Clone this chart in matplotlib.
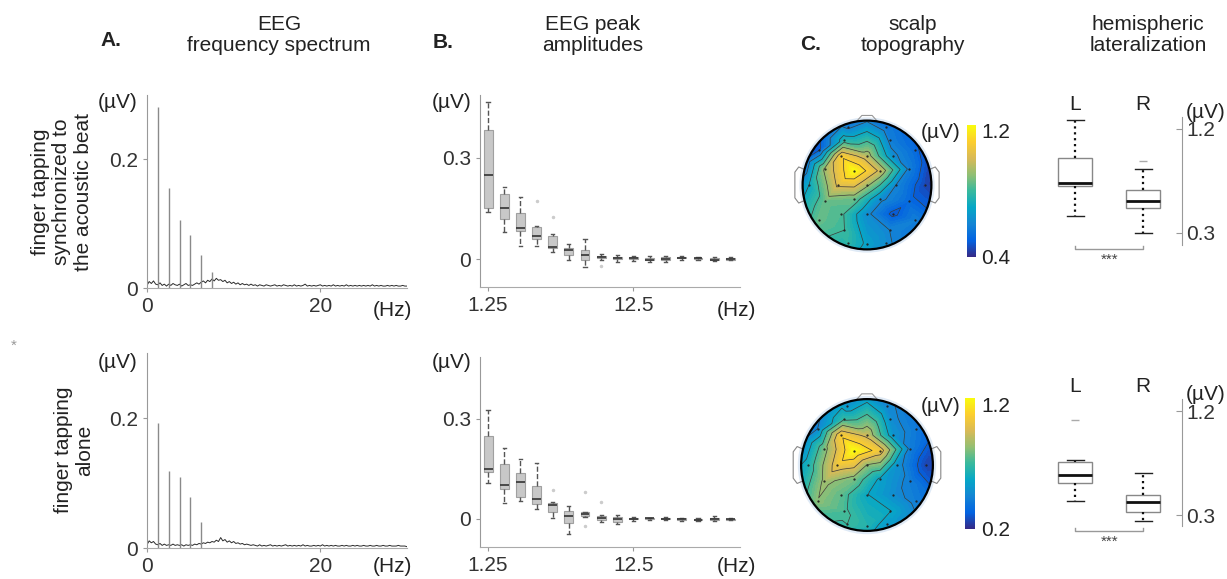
import numpy as np
import matplotlib.pyplot as plt
import matplotlib.tri as mtri
from matplotlib.colors import LinearSegmentedColormap, Normalize
from matplotlib.patches import Circle
from matplotlib.cm import ScalarMappable

plt.rcParams['font.family'] = ['Liberation Sans', 'DejaVu Sans']
plt.rcParams['font.size'] = 15
plt.rcParams['text.color'] = '#222'

W, H = 1227, 579

# ---------------- data ----------------
# A. spectrum: harmonic peaks of the 1.25 Hz beat + noise floor (0.25 Hz steps, 0..30 Hz)
harm_freqs = [1.25, 2.5, 3.75, 5.0, 6.25, 7.5]
peaks_sync = [0.281, 0.155, 0.105, 0.083, 0.052, 0.025]
peaks_alone = [0.192, 0.119, 0.109, 0.078, 0.040]
noise_sync = [0.004, 0.010, 0.007, 0.011, 0.006, 0.005, 0.008, 0.004, 0.006, 0.003,
              0.006, 0.004, 0.007, 0.005, 0.004, 0.006, 0.003, 0.005, 0.007, 0.004,
              0.005, 0.004, 0.006, 0.008, 0.006, 0.009, 0.011, 0.008, 0.012, 0.010,
              0.014, 0.011, 0.015, 0.012, 0.013, 0.010, 0.012, 0.008, 0.010, 0.007,
              0.009, 0.006, 0.008, 0.005, 0.007, 0.005, 0.006, 0.004, 0.006, 0.004,
              0.005, 0.003, 0.005, 0.004, 0.003, 0.005, 0.004, 0.003, 0.004, 0.005,
              0.003, 0.004, 0.003, 0.005, 0.004, 0.003, 0.004, 0.003, 0.005, 0.003,
              0.004, 0.003, 0.004, 0.006, 0.003, 0.004, 0.003, 0.004, 0.003, 0.004,
              0.005, 0.003, 0.004, 0.003, 0.004, 0.003, 0.005, 0.003, 0.004, 0.003,
              0.004, 0.003, 0.005, 0.003, 0.004, 0.003, 0.004, 0.003, 0.004, 0.003,
              0.004, 0.003, 0.004, 0.003, 0.005, 0.003, 0.004, 0.003, 0.004, 0.003,
              0.003, 0.004, 0.003, 0.004, 0.003, 0.004, 0.003, 0.003, 0.004, 0.003, 0.003]
noise_alone = [0.005, 0.011, 0.008, 0.010, 0.006, 0.005, 0.007, 0.004, 0.006, 0.004,
               0.005, 0.004, 0.006, 0.004, 0.005, 0.004, 0.005, 0.003, 0.005, 0.004,
               0.005, 0.004, 0.006, 0.005, 0.007, 0.006, 0.008, 0.007, 0.009, 0.008,
               0.010, 0.009, 0.012, 0.010, 0.016, 0.011, 0.013, 0.009, 0.011, 0.008,
               0.010, 0.007, 0.008, 0.006, 0.007, 0.005, 0.006, 0.005, 0.004, 0.005,
               0.004, 0.003, 0.005, 0.003, 0.004, 0.003, 0.004, 0.005, 0.003, 0.004,
               0.003, 0.004, 0.003, 0.004, 0.005, 0.003, 0.004, 0.003, 0.004, 0.003,
               0.004, 0.003, 0.005, 0.003, 0.004, 0.003, 0.003, 0.004, 0.003, 0.004,
               0.003, 0.005, 0.003, 0.004, 0.003, 0.004, 0.003, 0.004, 0.003, 0.003,
               0.004, 0.003, 0.004, 0.003, 0.003, 0.004, 0.003, 0.004, 0.003, 0.003,
               0.004, 0.003, 0.003, 0.004, 0.003, 0.003, 0.004, 0.003, 0.003, 0.004,
               0.003, 0.003, 0.004, 0.003, 0.003, 0.003, 0.004, 0.003, 0.003, 0.003, 0.002]

# B. peak amplitude boxplots at 1.25 .. 20 Hz (16 harmonics)
b_sync_whishi = [0.465, 0.214, 0.185, 0.098, 0.074, 0.044, 0.059, 0.015, 0.012, 0.010, 0.008, 0.010, 0.009, 0.007, 0.005, 0.005]
b_sync_q3 = [0.382, 0.193, 0.136, 0.096, 0.067, 0.032, 0.026, 0.010, 0.006, 0.005, 0.004, 0.005, 0.006, 0.004, 0.002, 0.002]
b_sync_med = [0.249, 0.153, 0.091, 0.067, 0.037, 0.026, 0.013, 0.006, 0.003, 0.002, -0.002, 0.001, 0.004, 0.002, -0.002, -0.001]
b_sync_q1 = [0.152, 0.118, 0.082, 0.059, 0.032, 0.013, -0.002, 0.003, -0.001, 0.000, -0.004, -0.002, 0.002, 0.000, -0.003, -0.002]
b_sync_whislo = [0.141, 0.079, 0.039, 0.039, 0.021, -0.002, -0.025, -0.002, -0.008, -0.005, -0.010, -0.008, -0.002, -0.003, -0.005, -0.004]
b_sync_fliers = [[], [], [], [0.172], [0.124], [], [], [-0.020], [], [], [], [], [], [], [], []]

b_alone_whishi = [0.327, 0.211, 0.178, 0.166, 0.052, 0.039, 0.022, 0.012, 0.012, 0.005, 0.004, 0.005, 0.004, 0.004, 0.008, 0.003]
b_alone_q3 = [0.248, 0.164, 0.138, 0.099, 0.047, 0.024, 0.020, 0.008, 0.007, 0.003, 0.003, 0.003, 0.002, 0.001, 0.004, 0.001]
b_alone_med = [0.149, 0.101, 0.111, 0.059, 0.042, 0.009, 0.015, 0.002, 0.000, 0.001, 0.002, 0.001, 0.000, -0.002, 0.001, -0.001]
b_alone_q1 = [0.141, 0.088, 0.065, 0.045, 0.022, -0.011, 0.009, -0.002, -0.008, -0.001, 0.000, -0.001, -0.002, -0.003, -0.002, -0.002]
b_alone_whislo = [0.106, 0.049, 0.054, 0.029, 0.004, -0.045, 0.007, -0.010, -0.015, -0.005, -0.002, -0.004, -0.006, -0.006, -0.006, -0.004]
b_alone_fliers = [[], [], [], [], [0.086], [], [0.079, -0.020], [0.052], [], [], [], [], [], [], [], []]

# C. scalp topography: electrode layout (unit head) and amplitudes
elec_x = [-0.30, 0.30, -0.35, 0.35, -0.75, -0.40, 0.00, 0.40, 0.75,
          -0.65, -0.20, 0.20, 0.65, -0.90, -0.45, 0.00, 0.45, 0.90,
          -0.65, -0.20, 0.20, 0.65, -0.75, -0.40, 0.00, 0.40, 0.75,
          -0.35, 0.35, -0.30, 0.00, 0.30]
elec_y = [0.90, 0.90, 0.70, 0.70, 0.55, 0.45, 0.45, 0.45, 0.55,
          0.25, 0.22, 0.22, 0.25, 0.00, 0.00, 0.00, 0.00, 0.00,
          -0.25, -0.22, -0.22, -0.25, -0.55, -0.45, -0.45, -0.45, -0.55,
          -0.70, -0.70, -0.90, -0.92, -0.90]
topo_sync = [0.58, 0.55, 0.75, 0.58, 0.48, 1.08, 0.95, 0.62, 0.52,
             0.92, 1.20, 0.98, 0.58, 0.70, 1.02, 0.92, 0.60, 0.45,
             0.85, 0.85, 0.62, 0.52, 0.85, 0.82, 0.62, 0.48, 0.58,
             0.80, 0.60, 0.78, 0.68, 0.62]
topo_alone = [0.50, 0.45, 0.68, 0.48, 0.45, 1.05, 0.92, 0.50, 0.40,
              0.78, 1.20, 1.02, 0.42, 0.62, 1.02, 0.82, 0.50, 0.25,
              0.85, 0.78, 0.55, 0.42, 0.82, 0.75, 0.58, 0.48, 0.42,
              0.72, 0.58, 0.70, 0.65, 0.52]
ring_angles = [0, 22.5, 45, 67.5, 90, 112.5, 135, 157.5, 180, 202.5, 225, 247.5, 270, 292.5, 315, 337.5]
ring_sync = [0.42, 0.45, 0.50, 0.55, 0.55, 0.55, 0.48, 0.48, 0.62, 0.75, 0.82, 0.75, 0.65, 0.60, 0.55, 0.50]
ring_alone = [0.25, 0.32, 0.38, 0.45, 0.50, 0.50, 0.42, 0.42, 0.55, 0.65, 0.72, 0.68, 0.60, 0.50, 0.45, 0.35]

# hemispheric lateralization (L, R)
lat_sync = {'whislo': [0.447, 0.300], 'q1': [0.707, 0.517], 'med': [0.733, 0.577],
            'q3': [0.950, 0.672], 'whishi': [1.270, 0.854], 'fliers': [[], [0.923]]}
lat_alone = {'whislo': [0.420, 0.248], 'q1': [0.577, 0.326], 'med': [0.646, 0.413],
             'q3': [0.760, 0.473], 'whishi': [0.776, 0.663], 'fliers': [[1.122], []]}

parula = LinearSegmentedColormap.from_list('parula', [
    '#352a87', '#0363e1', '#1485d4', '#06a7c6', '#38b99e',
    '#92bf73', '#d9ba56', '#fcce2e', '#f9fb0e'])

fig = plt.figure(figsize=(12.27, 5.79), dpi=100)


def px_axes(left, top, right, bottom):
    return fig.add_axes([left / W, 1 - bottom / H, (right - left) / W, (bottom - top) / H])


def ftext(x, y, s, **kw):
    fig.text(x / W, 1 - y / H, s, **kw)


def style_axes(ax):
    for s in ['top', 'right']:
        ax.spines[s].set_visible(False)
    ax.spines['left'].set_color('#999')
    ax.spines['bottom'].set_color('#aaa')
    ax.tick_params(colors='#999', labelcolor='#333', length=3, labelsize=15)


def spectrum(ax, noise, peaks):
    f = np.arange(len(noise)) * 0.25
    ax.plot(f, noise, color='#2a2a2a', lw=0.7)
    ax.vlines(harm_freqs[:len(peaks)], 0, peaks, color='#8a8a8a', lw=1)
    ax.set_xlim(0, 30)
    ax.set_ylim(0, 0.30)
    ax.set_yticks([0, 0.2], ['0', '0.2'])
    ax.set_xticks([0, 20], ['0', '20'])
    style_axes(ax)


def peak_boxes(ax, whislo, q1, med, q3, whishi, fliers):
    stats = []
    for i in range(len(med)):
        stats.append({'whislo': whislo[i], 'q1': q1[i], 'med': med[i], 'q3': q3[i],
                      'whishi': whishi[i], 'fliers': fliers[i]})
    ax.bxp(stats, positions=range(1, len(med) + 1), widths=0.55, patch_artist=True,
           boxprops=dict(facecolor='#c8c8c8', edgecolor='#a0a0a0', lw=0.8),
           medianprops=dict(color='#333', lw=1.2),
           whiskerprops=dict(color='#555', lw=1, ls='--'),
           capprops=dict(color='#555', lw=1), capwidths=0.2,
           flierprops=dict(marker='.', markersize=3, markerfacecolor='#ccc', markeredgecolor='#ccc'))
    ax.set_xlim(0.5, 16.6)
    ax.set_xticks([1, 10], ['1.25', '12.5'])
    ax.set_yticks([0, 0.3], ['0', '0.3'])
    style_axes(ax)


def topo(ax, vals, ring_vals, vmin, vmax, lim):
    ang = np.deg2rad(ring_angles)
    xs = np.concatenate([elec_x, 1.06 * np.cos(ang)])
    ys = np.concatenate([elec_y, 1.06 * np.sin(ang)])
    zs = np.concatenate([vals, ring_vals])
    tri = mtri.Triangulation(xs, ys)
    ax.add_patch(Circle((0, 0), 1.05, fc='#dfeaf6', ec='none', zorder=0))
    cf = ax.tricontourf(tri, zs, levels=np.linspace(vmin, vmax, 41), cmap=parula,
                        vmin=vmin, vmax=vmax, extend='both', zorder=1)
    cf.set_clip_path(Circle((0, 0), 1.0, transform=ax.transData))
    cl = ax.tricontour(tri, zs, levels=np.linspace(vmin, vmax, 9)[1:-1], colors='#3a3a3a',
                       linewidths=0.5, zorder=2)
    cl.set_clip_path(Circle((0, 0), 1.0, transform=ax.transData))
    ax.plot(elec_x, elec_y, '.', color='#222', ms=1.2, zorder=3)
    ax.add_patch(Circle((0, 0), 1.0, fill=False, ec='k', lw=1.6, zorder=4))
    ear_x = [0.99, 1.06, 1.12, 1.12, 1.06, 0.99]
    ear_y = [0.25, 0.28, 0.20, -0.20, -0.28, -0.25]
    ax.plot(ear_x, ear_y, color='#888', lw=0.8)
    ax.plot([-v for v in ear_x], ear_y, color='#888', lw=0.8)
    ax.plot([-0.16, -0.08, 0.08, 0.16], [0.99, 1.08, 1.08, 0.99], color='#999', lw=0.8)
    ax.set_xlim(-lim, lim)
    ax.set_ylim(-lim, lim)
    ax.set_aspect('equal')
    ax.axis('off')


def colorbar(cax, vmin, vmax):
    sm = ScalarMappable(norm=Normalize(vmin, vmax), cmap=parula)
    cb = fig.colorbar(sm, cax=cax)
    cb.outline.set_visible(False)
    cb.set_ticks([])


def lateral(ax, d):
    stats = []
    for i in range(2):
        stats.append({k: d[k][i] for k in d})
    ax.bxp(stats, positions=[1, 2], widths=0.5, patch_artist=True,
           boxprops=dict(facecolor='white', edgecolor='#888', lw=1),
           medianprops=dict(color='#111', lw=2),
           whiskerprops=dict(color='#111', lw=1.6, ls=':'),
           capprops=dict(color='#222', lw=1), capwidths=0.25,
           flierprops=dict(marker='_', markersize=6, markeredgecolor='#aaa'))
    ax.set_xlim(0.485, 2.57)
    for s in ['top', 'left', 'bottom']:
        ax.spines[s].set_visible(False)
    ax.spines['right'].set_color('#999')
    ax.yaxis.tick_right()
    ax.set_yticks([0.3, 1.2], ['0.3', '1.2'])
    ax.tick_params(axis='y', direction='in', colors='#999', labelcolor='#333', length=4, labelsize=15, pad=3)
    ax.set_xticks([])
    ax.plot([1, 1, 2, 2], [0.19, 0.162, 0.162, 0.19], color='#999', lw=1, clip_on=False)
    ax.text(1.5, 0.07, '***', ha='center', va='center', fontsize=11, color='#444')


# ---------------- panels ----------------
ax = px_axes(147, 95, 407, 288)
spectrum(ax, noise_sync, peaks_sync)
ax = px_axes(147, 353, 407, 548)
spectrum(ax, noise_alone, peaks_alone)

ax = px_axes(480, 95, 740, 287)
peak_boxes(ax, b_sync_whislo, b_sync_q1, b_sync_med, b_sync_q3, b_sync_whishi, b_sync_fliers)
ax.set_ylim(-0.083, 0.487)
ax = px_axes(480, 357, 740, 547)
peak_boxes(ax, b_alone_whislo, b_alone_q1, b_alone_med, b_alone_q3, b_alone_whishi, b_alone_fliers)
ax.set_ylim(-0.084, 0.484)

ax = px_axes(782, 100, 952, 270)
topo(ax, topo_sync, ring_sync, 0.4, 1.2, 1.32)
colorbar(px_axes(967, 125, 976, 257), 0.4, 1.2)
ax = px_axes(782, 380, 952, 550)
topo(ax, topo_alone, ring_alone, 0.2, 1.2, 1.29)
colorbar(px_axes(965, 398, 975, 529), 0.2, 1.2)

ax = px_axes(1040, 117, 1182, 245)
lateral(ax, lat_sync)
ax.set_ylim(0.196, 1.30)
ax = px_axes(1040, 399, 1182, 526)
lateral(ax, lat_alone)
ax.set_ylim(0.205, 1.304)

# ---------------- texts ----------------
ftext(100, 40, 'A.', fontweight='bold', va='center')
ftext(279, 35, 'EEG\nfrequency spectrum', ha='center', va='center', linespacing=1.1)
ftext(433, 42, 'B.', fontweight='bold', va='center')
ftext(593, 35, 'EEG peak\namplitudes', ha='center', va='center', linespacing=1.1)
ftext(800, 44, 'C.', fontweight='bold', va='center')
ftext(913, 35, 'scalp\ntopography', ha='center', va='center', linespacing=1.1)
ftext(1148, 35, 'hemispheric\nlateralization', ha='center', va='center', linespacing=1.1)

ftext(62, 192, 'finger tapping\nsynchronized to\nthe acoustic beat', rotation=90,
      ha='center', va='center', linespacing=1.15)
ftext(74, 450, 'finger tapping\nalone', rotation=90, ha='center', va='center', linespacing=1.15)
ftext(14, 346, '*', color='#999', fontsize=11, ha='center', va='center')

for y in [103, 363]:
    ftext(118, y, '(µV)', ha='center', va='center')
    ftext(452, y, '(µV)', ha='center', va='center')
for y in [310, 567]:
    ftext(392, y, '(Hz)', ha='center', va='center')
    ftext(736, y, '(Hz)', ha='center', va='center')

ftext(941, 133, '(µV)', ha='center', va='center')
ftext(981, 133, '1.2', va='center')
ftext(981, 259, '0.4', va='center')
ftext(941, 407, '(µV)', ha='center', va='center')
ftext(981, 407, '1.2', va='center')
ftext(981, 530, '0.2', va='center')

for y in [105, 387]:
    ftext(1075, y, 'L', ha='center', va='center')
    ftext(1143, y, 'R', ha='center', va='center')
    ftext(1206, y + 7, '(µV)', ha='center', va='center')

fig.savefig('out.png', dpi=100)
